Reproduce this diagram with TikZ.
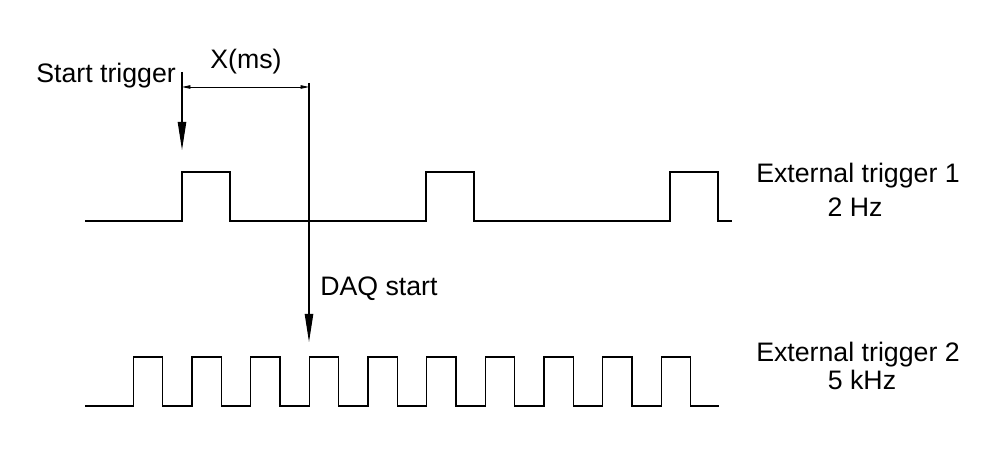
\documentclass[tikz,border=0pt]{standalone}
\usepackage{fontspec}
\setmainfont{Liberation Sans}
\usetikzlibrary{arrows.meta,positioning}

\begin{document}
\begin{tikzpicture}[x=0.025cm, y=-0.025cm, every node/.style={font=\fontsize{19}{23}\selectfont, inner sep=0pt}, lbl/.style={anchor=base west}, sig/.style={line width=0.8pt}, arr/.style={-{Triangle[length=20pt,width=6pt]}, line width=0.8pt}, dim/.style={{Triangle[length=6pt,width=2.5pt]}-{Triangle[length=6pt,width=2.5pt]}, line width=0.6pt}]
\useasboundingbox (0,0) rectangle (999,471);
% waveforms
\draw[sig] (85,221) foreach \x in {182,426,670} {-- (\x,221) -- (\x,172) -- (\x+48,172) -- (\x+48,221)} -- (732,221);
\draw[sig] (85,406) foreach \i in {0,...,9} {-- (133.3+58.67*\i,406) -- (133.3+58.67*\i,357) -- (162.6+58.67*\i,357) -- (162.6+58.67*\i,406)} -- (719,406);
% markers
\coordinate (trig) at (182,72); \coordinate (trigtip) at (182,150);
\coordinate (daq) at (309,83); \coordinate (daqtip) at (309,342);
\coordinate (xl) at (182,87); \coordinate (xr) at (309,87);
\draw[arr] (trig) -- (trigtip); \draw[arr] (daq) -- (daqtip); \draw[dim] (xl) -- (xr);
% labels
\node[lbl] (start) at (36,83) {Start trigger};
\node[lbl] (xms) at (210,69) {X(ms)};
\node[lbl] (daqlbl) at (320,296) {DAQ start};
\node[anchor=base] (ext1) at (858,183) {External trigger 1};
\node[anchor=base] (hz1) at (855,217) {2 Hz};
\node[anchor=base] (ext2) at (858,362) {External trigger 2};
\node[anchor=base] (hz2) at (862,390) {5 kHz};
\end{tikzpicture}
\end{document}
